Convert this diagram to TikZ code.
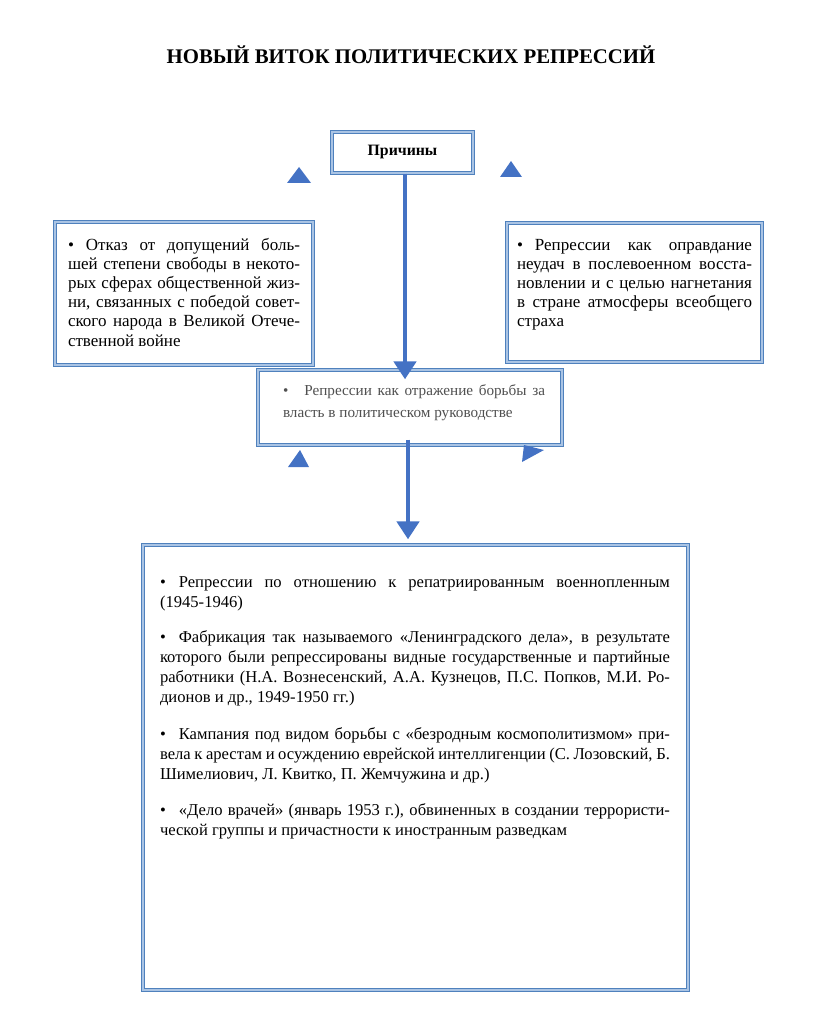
\documentclass[tikz,border=0pt]{standalone}
\usepackage{fontspec}
\setmainfont{Liberation Serif}
\usetikzlibrary{arrows.meta}
\definecolor{boxblue}{RGB}{79,129,189}
\definecolor{boxlight}{RGB}{170,196,228}
\definecolor{arrblue}{RGB}{68,114,196}
\definecolor{midtext}{RGB}{80,80,80}
\tikzset{
  frame/.style={draw=boxblue, line width=1.3pt, double=boxlight, double distance=2.2pt, fill=white, inner sep=0pt},
  bigarrow/.style={draw=arrblue, line width=4.5pt, -{Triangle[width=22pt,length=18pt]}},
  tri/.style={fill=arrblue}
}
\begin{document}
\begin{tikzpicture}[x=1pt,y=-1pt]
\useasboundingbox (0,0) rectangle (816,1019);
% title
\node[font=\bfseries\fontsize{20.8}{24}\selectfont] (title) at (411,55) {НОВЫЙ ВИТОК ПОЛИТИЧЕСКИХ РЕПРЕССИЙ};
% top box
\node[frame, minimum width=141pt, minimum height=41pt, font=\bfseries\fontsize{15.8}{18}\selectfont] (top) at (402.5,152.5) {Причины};
% left box
\node[frame] (left) at (184,293.5) {\parbox[c][143pt][t]{258pt}{\vspace*{16pt}\hspace*{13pt}\parbox[t]{232pt}{\fontsize{17}{19.2}\selectfont
•\hspace{12pt}Отказ от допущений боль-\linebreak шей степени свободы в некото-\linebreak рых сферах общественной жиз-\linebreak ни, связанных с победой совет-\linebreak ского народа в Великой Отече-\linebreak ственной войне}}};
% right box
\node[frame] (right) at (634.5,292.5) {\parbox[c][139pt][t]{255pt}{\vspace*{16pt}\hspace*{10pt}\parbox[t]{235pt}{\fontsize{17}{19.2}\selectfont
•\hspace{12pt}Репрессии как оправдание\linebreak неудач в послевоенном восста-\linebreak новлении и с целью нагнетания\linebreak в стране атмосферы всеобщего\linebreak страха}}};
% middle box
\node[frame] (mid) at (410,407.5) {\parbox[c][75pt][t]{304pt}{\vspace*{15pt}\hspace*{25pt}\parbox[t]{262pt}{\fontsize{15.2}{22}\selectfont\color{midtext}
•\hspace{16pt}Репрессии как отражение борьбы за\linebreak власть в политическом руководстве}}};
% bottom box
\node[frame] (bot) at (415.5,767.5) {\parbox[c][445pt][t]{545pt}{\vspace*{32pt}\hspace*{17pt}\parbox[t]{510pt}{\fontsize{16.6}{20}\selectfont
•\hspace{13pt}Репрессии по отношению к репатриированным военнопленным\linebreak (1945-1946)\par\vspace{15pt}
•\hspace{13pt}Фабрикация так называемого «Ленинградского дела», в результате\linebreak которого были репрессированы видные государственные и партийные\linebreak работники (Н.А. Вознесенский, А.А. Кузнецов, П.С. Попков, М.И. Ро-\linebreak дионов и др., 1949-1950 гг.)\par\vspace{17pt}
•\hspace{13pt}Кампания под видом борьбы с «безродным космополитизмом» при-\linebreak вела к арестам и осуждению еврейской интеллигенции (С. Лозовский, Б.\linebreak Шимелиович, Л. Квитко, П. Жемчужина и др.)\par\vspace{16pt}
•\hspace{13pt}«Дело врачей» (январь 1953 г.), обвиненных в создании террористи-\linebreak ческой группы и причастности к иностранным разведкам}}};
% arrows
\coordinate (a1start) at ([xshift=2.5pt]top.south);
\coordinate (a1end) at ([yshift=-10pt]a1start |- mid.north);
\coordinate (a2start) at ([xshift=-2pt,yshift=6pt]mid.south);
\coordinate (a2end) at ([yshift=5pt]a2start |- bot.north);
\draw[bigarrow] (a1start) -- (a1end);
\draw[bigarrow] (a2start) -- (a2end);
% small triangles
\fill[tri] (287,183) -- (299,167) -- (311,183) -- cycle;
\fill[tri] (500,177) -- (511,161) -- (522,177) -- cycle;
\fill[tri] (288,467) -- (300,450) -- (309,467) -- cycle;
\fill[tri] (524,445) -- (544,450) -- (522,462) -- cycle;
\end{tikzpicture}
\end{document}
